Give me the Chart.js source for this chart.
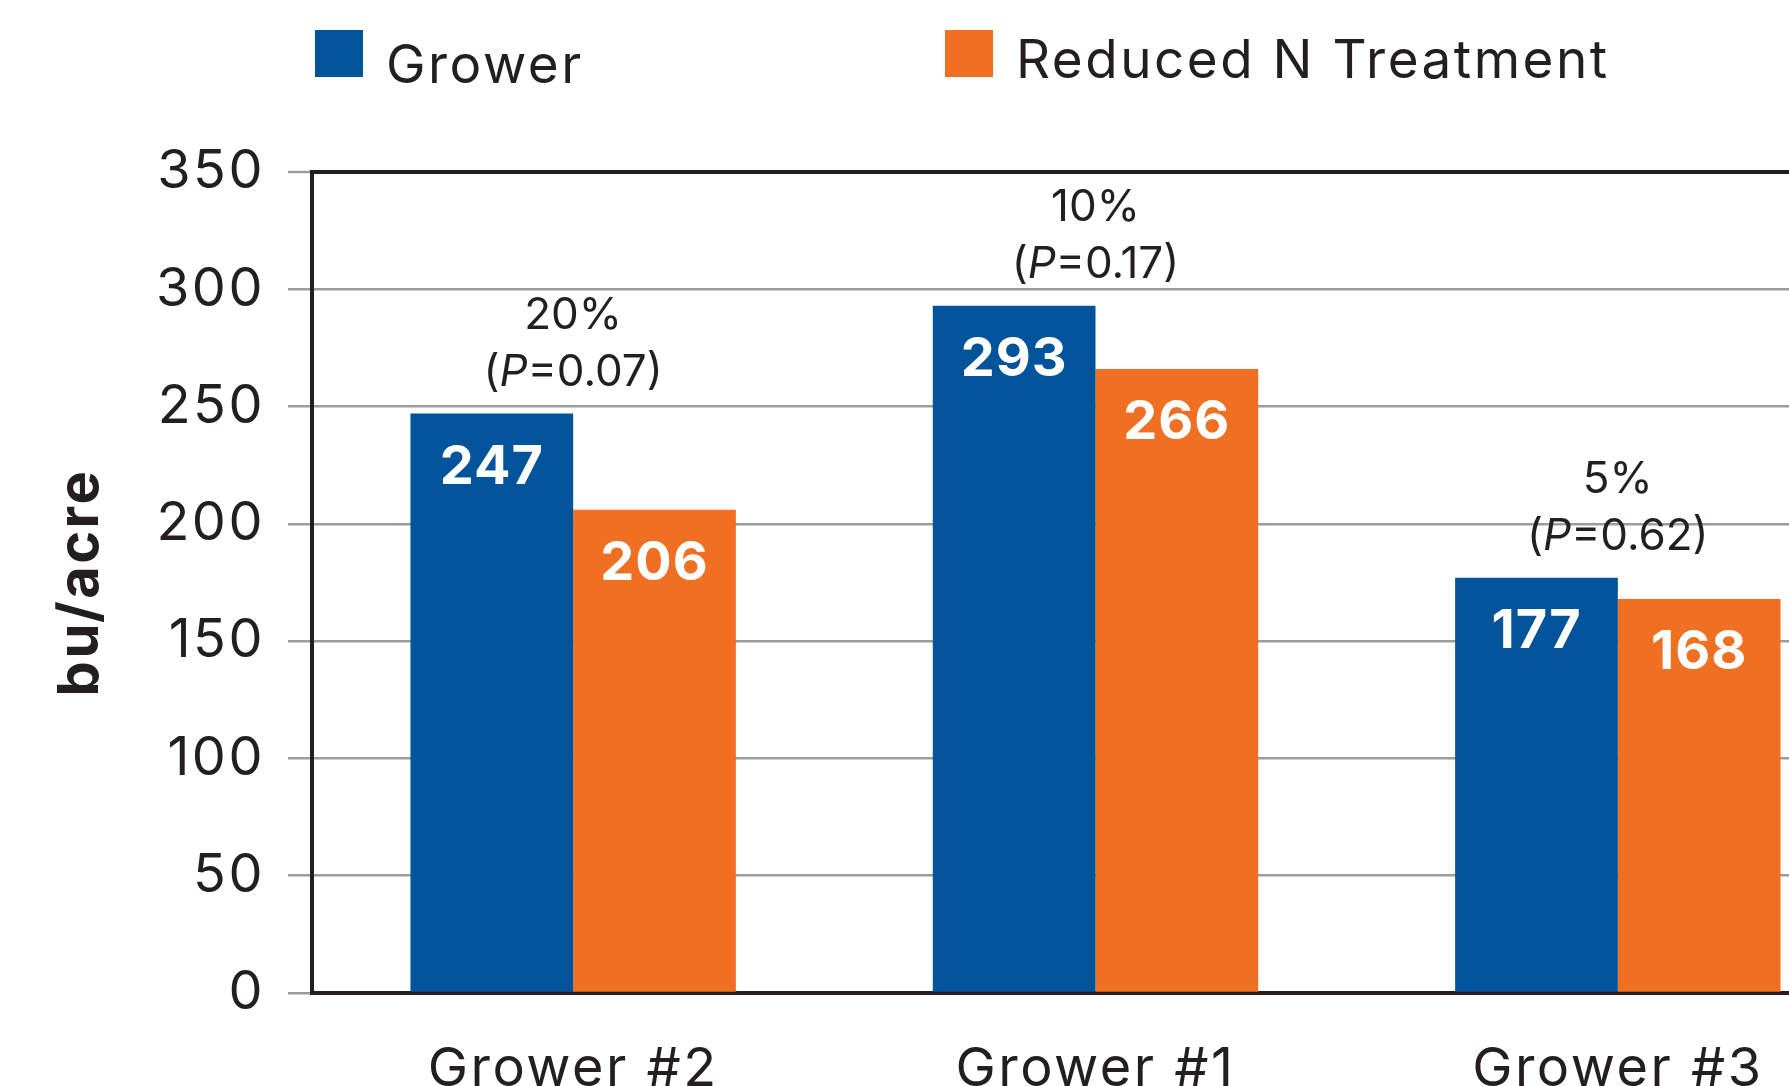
<!DOCTYPE html>
<html>
<head>
<meta charset="utf-8">
<script src="https://cdn.jsdelivr.net/npm/chart.js@4.4.1/dist/chart.umd.min.js"></script>
<style>
  html, body { margin: 0; padding: 0; background: #fff; overflow: hidden; }
  #wrap { position: relative; width: 1890px; height: 1086px; }
</style>
</head>
<body>
<div id="wrap"><canvas id="yieldChart"></canvas></div>
<script>
// data
const growers = ['Grower #2', 'Grower #1', 'Grower #3'];
const growerYield = [247, 293, 177];
const reducedNYield = [206, 266, 168];
const diffLabels = ['20%', '10%', '5%'];
const pValues = ['0.07', '0.17', '0.62'];
const yTicks = [0, 50, 100, 150, 200, 250, 300, 350];

const INK = '#231f20';
const GRID = '#9c9c9c';
const BLUE = '#02549a';
const ORANGE = '#f07023';
const FONT = 'Inter, "Open Sans", sans-serif';

// the original type is set wider than Inter, open it up a little
const spacing = {
  id: 'spacing',
  beforeDraw(chart) { chart.ctx.letterSpacing = '2.5px'; },
  afterDatasetsDraw(chart) { chart.ctx.letterSpacing = '3px'; }
};

// white value labels inside the top of each bar
const valueLabels = {
  id: 'valueLabels',
  afterDatasetsDraw(chart) {
    const ctx = chart.ctx;
    ctx.save();
    ctx.letterSpacing = '1px';
    ctx.fillStyle = '#fff';
    ctx.font = `700 54px ${FONT}`;
    ctx.textAlign = 'center';
    ctx.textBaseline = 'middle';
    chart.data.datasets.forEach((ds, i) => {
      chart.getDatasetMeta(i).data.forEach((bar, j) => {
        ctx.fillText(String(ds.data[j]), bar.x, bar.y + 54);
      });
    });
    ctx.restore();
  }
};

// "20% (P=0.07)" notes above each pair, P in italics
const diffNotes = {
  id: 'diffNotes',
  afterDatasetsDraw(chart) {
    const ctx = chart.ctx;
    const a = chart.getDatasetMeta(0).data;
    const b = chart.getDatasetMeta(1).data;
    ctx.save();
    ctx.letterSpacing = '0px';
    ctx.fillStyle = INK;
    ctx.textBaseline = 'middle';
    const upright = `400 44px ${FONT}`;
    const italic = `italic 400 44px ${FONT}`;
    growers.forEach((g, i) => {
      const cx = (a[i].x + b[i].x) / 2;
      const top = Math.min(a[i].y, b[i].y);
      ctx.font = upright;
      ctx.textAlign = 'center';
      ctx.fillText(diffLabels[i], cx, top - 98);

      const rest = '=' + pValues[i] + ')';
      ctx.font = upright;
      const w1 = ctx.measureText('(').width;
      const w3 = ctx.measureText(rest).width;
      ctx.font = italic;
      const w2 = ctx.measureText('P').width;
      let x = cx - (w1 + w2 + w3) / 2;
      const y = top - 41;
      ctx.textAlign = 'left';
      ctx.font = upright;
      ctx.fillText('(', x, y);
      x += w1;
      ctx.font = italic;
      ctx.fillText('P', x, y);
      x += w2;
      ctx.font = upright;
      ctx.fillText(rest, x, y);
    });
    ctx.restore();
  }
};

// legend with the wide gap of the original
const topLegend = {
  id: 'topLegend',
  afterDraw(chart) {
    const ctx = chart.ctx;
    const spots = [{ box: 315, text: 386, base: 83 }, { box: 945, text: 1016, base: 78 }];
    ctx.save();
    ctx.letterSpacing = '2.5px';
    ctx.font = `400 53px ${FONT}`;
    ctx.textBaseline = 'alphabetic';
    ctx.textAlign = 'left';
    chart.data.datasets.forEach((ds, i) => {
      ctx.fillStyle = ds.backgroundColor;
      ctx.fillRect(spots[i].box, 30, 48, 47);
      ctx.fillStyle = INK;
      ctx.fillText(ds.label, spots[i].text, spots[i].base);
    });
    ctx.restore();
  }
};

new Chart(document.getElementById('yieldChart'), {
  type: 'bar',
  data: {
    labels: growers,
    datasets: [
      { label: 'Grower', data: growerYield, backgroundColor: BLUE },
      { label: 'Reduced N Treatment', data: reducedNYield, backgroundColor: ORANGE }
    ]
  },
  options: {
    responsive: true,
    maintainAspectRatio: false,
    animation: false,
    layout: { padding: { top: 172, left: 40, right: 11, bottom: 0 } },
    datasets: { bar: { categoryPercentage: 0.623, barPercentage: 1 } },
    plugins: {
      legend: { display: false },
      tooltip: { enabled: false }
    },
    scales: {
      x: {
        z: 1,
        grid: { display: false },
        border: { display: true, color: INK, width: 4 },
        ticks: {
          color: INK,
          padding: 36,
          font: { family: FONT, size: 54, weight: 400, lineHeight: 1.2 }
        },
        afterFit(scale) { scale.height = 93; }
      },
      y: {
        min: 0,
        max: 350,
        afterBuildTicks(scale) { scale.ticks = yTicks.map(v => ({ value: v })); },
        grid: {
          color: c => (c.tick && c.tick.value === 350 ? INK : GRID),
          lineWidth: c => (c.tick && c.tick.value === 350 ? 4 : 2.5),
          tickColor: GRID,
          tickWidth: 2.5,
          tickLength: 24,
          drawTicks: true
        },
        border: { display: true, color: INK, width: 4 },
        ticks: {
          color: INK,
          padding: 23,
          font: { family: FONT, size: 54, weight: 400 }
        },
        title: {
          display: true,
          text: 'bu/acre',
          color: INK,
          padding: { top: 8, bottom: 36 },
          font: { family: FONT, size: 56, weight: 700, lineHeight: 1.2 }
        },
        afterFit(scale) { scale.width = 272; }
      }
    }
  },
  plugins: [spacing, valueLabels, diffNotes, topLegend]
});
</script>
</body>
</html>
